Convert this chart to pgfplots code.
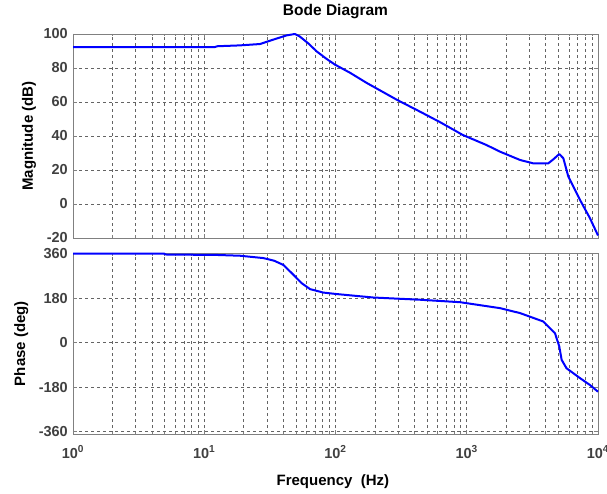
\documentclass[border=0pt]{standalone}
\usepackage{fontspec}
\setmainfont{Liberation Sans}
\usepackage{pgfplots}
\pgfplotsset{compat=1.18}

\definecolor{gridgray}{RGB}{100,100,100}
\definecolor{framegray}{RGB}{128,128,128}

\begin{document}
\begin{tikzpicture}
\useasboundingbox (0pt,0pt) rectangle (607pt,-494pt);

% Magnitude
\begin{axis}[
  at={(73pt,-34pt)}, anchor=north west,
  scale only axis,
  width=525pt, height=204pt,
  xmode=log,
  xmin=1, xmax=10000,
  xtick={1,10,100,1000,10000},
  xticklabels={},
  xmajorgrids, xminorgrids, ymajorgrids,
  major grid style={dash pattern=on 3pt off 3pt, gridgray, line width=0.7pt},
  minor grid style={dash pattern=on 3pt off 3pt, gridgray, line width=0.7pt},
  axis line style={framegray, line width=0.9pt},
  tick style={framegray, line width=0.7pt},
  major tick length=4pt,
  minor tick length=2.5pt,
  tick align=inside,
  ticklabel style={font=\bfseries\fontsize{14.5}{16}\selectfont, text=black!75},
  yticklabel style={anchor=east, inner sep=0pt, xshift=-5pt},
  clip=false,
  ymin=-20, ymax=100,
  ytick={-20,0,20,40,60,80,100},
  yticklabels={-20,0,20,40,60,80,100},
  title={Bode Diagram},
  title style={at={(0.5,1)}, anchor=base, yshift=12pt,
    font=\bfseries\fontsize{15.5}{18}\selectfont},
]
\addplot[blue, line width=2pt, line join=round] table {
f      mag
1      92.3
12     92.3
12.6   92.8
18.7   93.3
26.6   94.1
33.6   96.7
42.5   99.2
49     100
53.3   98.6
62     94.5
71.8   89.8
85     85.5
99     82
129    77.2
173    71.2
292    61.4
441    54.3
631    48
933    40.6
1413   34.7
1791   30.8
2547   25.9
3214   23.9
4178   23.9
4571   26.3
5070   29.4
5445   26.9
5943   16.1
7295   2.4
8690   -8.4
10000  -18.5
};
\node[rotate=90, anchor=base, font=\bfseries\fontsize{15}{18}\selectfont]
  at (axis description cs:-0.0762,0.5) {Magnitude (dB)};
\end{axis}

% Phase
\begin{axis}[
  at={(73pt,-253pt)}, anchor=north west,
  scale only axis,
  width=525pt, height=181pt,
  xmode=log,
  xmin=1, xmax=10000,
  xtick={1,10,100,1000,10000},
  xticklabels={10\textsuperscript{0},10\textsuperscript{1},10\textsuperscript{2},10\textsuperscript{3},10\textsuperscript{4}},
  xmajorgrids, xminorgrids, ymajorgrids,
  major grid style={dash pattern=on 3pt off 3pt, gridgray, line width=0.7pt},
  minor grid style={dash pattern=on 3pt off 3pt, gridgray, line width=0.7pt},
  axis line style={framegray, line width=0.9pt},
  tick style={framegray, line width=0.7pt},
  major tick length=4pt,
  minor tick length=2.5pt,
  tick align=inside,
  ticklabel style={font=\bfseries\fontsize{14.5}{16}\selectfont, text=black!75},
  yticklabel style={anchor=east, inner sep=0pt, xshift=-5pt},
  xticklabel style={anchor=base, inner sep=0pt, yshift=-24pt},
  clip=false,
  ymin=-369, ymax=363,
  ytick={-360,-180,0,180,360},
  yticklabels={-360,-180,0,180,360},
]
\addplot[blue, line width=2pt, line join=round] table {
f      ph
1      360
5      360
5.01   357
12.6   355
18.7   352
28.2   342.5
34     332
40     315
47.8   275
55.2   241
64     217
80.7   203
102    197
194    183
441    174
891    164
1791   140
2547   120
3828   86
4699   39
5070   -15
5284   -69
5754   -103
7295   -143
8690   -171
10000  -198
};
\node[rotate=90, anchor=base, font=\bfseries\fontsize{15}{18}\selectfont]
  at (axis description cs:-0.0914,0.5) {Phase (deg)};
\node[anchor=base, font=\bfseries\fontsize{15}{18}\selectfont, yshift=-51pt]
  at (axis description cs:0.495,0) {Frequency~~(Hz)};
\end{axis}
\end{tikzpicture}
\end{document}
